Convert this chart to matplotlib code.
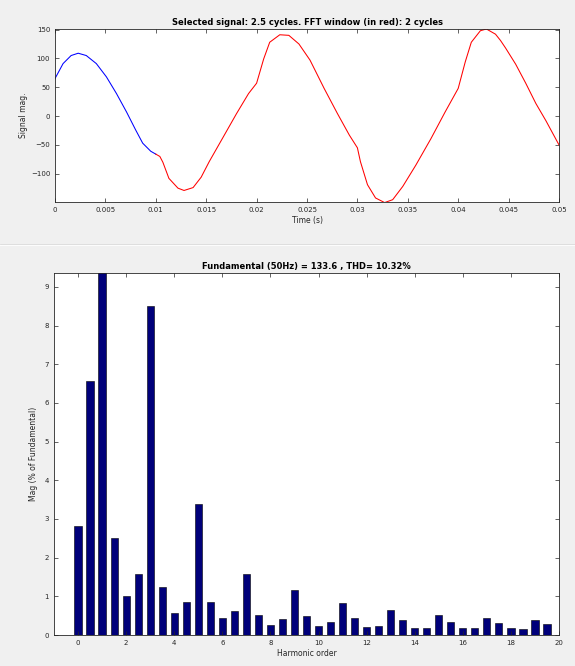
import matplotlib
matplotlib.use("Agg")
import matplotlib.pyplot as plt
from matplotlib.lines import Line2D

# waveform: blue = first half cycle, red = FFT window
t_blue = [0.0, 0.0008, 0.0016, 0.0023, 0.0031, 0.0041, 0.0051, 0.0061,
          0.0071, 0.0080, 0.0087, 0.0095, 0.0100]
v_blue = [65, 91, 105, 109, 105, 91, 68, 39, 7, -24, -47, -61, -66]

t_red = [0.0100, 0.0104, 0.0107, 0.0113, 0.0122, 0.0128, 0.0137, 0.0145,
         0.0153, 0.0167, 0.0180, 0.0192, 0.0200, 0.0207, 0.0213, 0.0223,
         0.0232, 0.0242, 0.0253, 0.0267, 0.0280, 0.0292, 0.0300, 0.0303,
         0.0310, 0.0318, 0.0327, 0.0335, 0.0345, 0.0358, 0.0373, 0.0387,
         0.0400, 0.0407, 0.0413, 0.0422, 0.0428, 0.0437, 0.0442, 0.0447,
         0.0457, 0.0467, 0.0477, 0.0487, 0.0500]
v_red = [-66, -70, -80, -108, -125, -129, -124, -106,
         -79, -36, 4, 39, 57, 99, 128, 141,
         140, 125, 97, 48, 5, -33, -55, -79,
         -119, -142, -150, -145, -122, -85, -39, 7,
         48, 94, 128, 148, 151, 142, 131, 118,
         90, 57, 22, -8, -50]

# harmonic spectrum (% of fundamental), 0 .. 19.5 in steps of 0.5
orders = [i * 0.5 for i in range(40)]
mags = [2.82, 6.56, 100.0, 2.50, 1.02, 1.59, 8.50, 1.23, 0.58, 0.86,
        3.40, 0.86, 0.45, 0.62, 1.59, 0.53, 0.26, 0.41, 1.16, 0.50,
        0.24, 0.33, 0.83, 0.44, 0.21, 0.24, 0.65, 0.39, 0.19, 0.19,
        0.52, 0.34, 0.17, 0.17, 0.43, 0.30, 0.17, 0.15, 0.39, 0.28]

top_title = "Selected signal: 2.5 cycles. FFT window (in red): 2 cycles"
bot_title = "Fundamental (50Hz) = 133.6 , THD= 10.32%"

W, H = 575, 666
bg = "#f0f0f0"
ink = "#262626"

fig = plt.figure(figsize=(W / 100, H / 100), dpi=100, facecolor=bg)

# panel separator
fig.add_artist(Line2D([0, 1], [1 - 245 / H, 1 - 245 / H], color="white", lw=1.2))
fig.add_artist(Line2D([0, 1], [1 - 244 / H, 1 - 244 / H], color="#d9d9d9", lw=0.6))


def style(ax):
    ax.set_facecolor("white")
    for s in ax.spines.values():
        s.set_color(ink)
        s.set_linewidth(0.6)
    ax.tick_params(direction="in", top=True, right=True, labelsize=5,
                   colors=ink, length=3, width=0.5)


ax1 = fig.add_axes([55 / W, 1 - 202 / H, 504 / W, 173 / H])
style(ax1)
ax1.plot(t_blue, v_blue, color="blue", lw=0.75)
ax1.plot(t_red, v_red, color="red", lw=0.75)
ax1.set_xlim(0, 0.05)
ax1.set_ylim(-149, 151)
ax1.set_xticks([i * 0.005 for i in range(11)])
ax1.set_xticklabels(["0", "0.005", "0.01", "0.015", "0.02", "0.025", "0.03",
                     "0.035", "0.04", "0.045", "0.05"])
ax1.set_yticks([-100, -50, 0, 50, 100, 150])
ax1.set_title(top_title, fontsize=6, fontweight="bold", color="black", pad=3)
ax1.set_xlabel("Time (s)", fontsize=5.5, color=ink, labelpad=2)
ax1.set_ylabel("Signal mag.", fontsize=5.5, color=ink, labelpad=2)

ax2 = fig.add_axes([54 / W, 1 - 635 / H, 505 / W, 362 / H])
style(ax2)
ax2.bar(orders, mags, width=0.3, color="#00007a", edgecolor="black", lw=0.4)
ax2.set_xlim(-1, 20)
ax2.set_ylim(0, 9.36)
ax2.set_xticks(range(0, 21, 2))
ax2.set_yticks(range(0, 10))
ax2.set_title(bot_title, fontsize=6, fontweight="bold", color="black", pad=3)
ax2.set_xlabel("Harmonic order", fontsize=5.5, color=ink, labelpad=2)
ax2.set_ylabel("Mag (% of Fundamental)", fontsize=5.5, color=ink, labelpad=5)

fig.savefig("out.png", dpi=100, facecolor=bg)
